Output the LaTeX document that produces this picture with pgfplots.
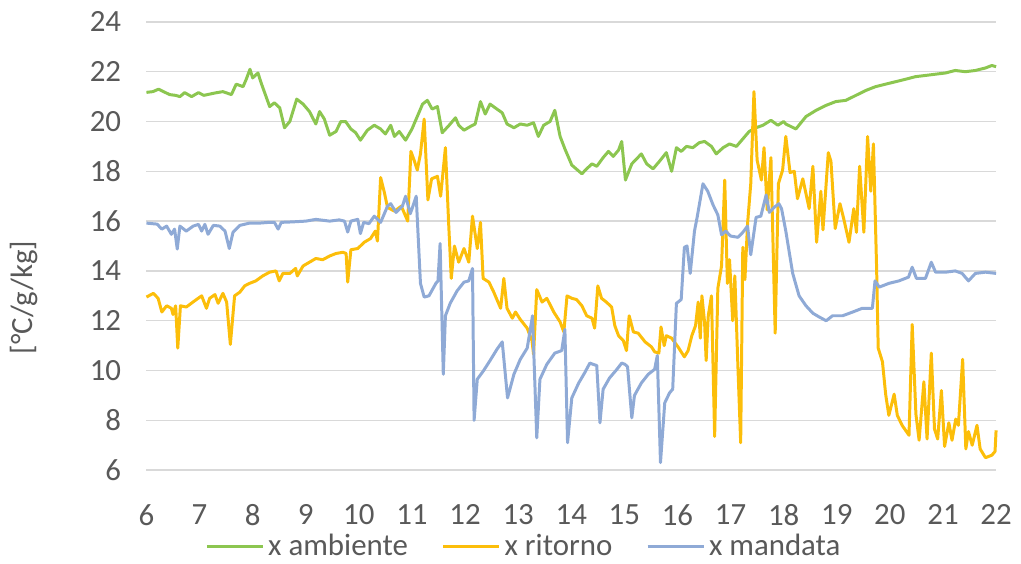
\documentclass[border=0pt]{standalone}
\usepackage{fontspec}
\setmainfont{Carlito}
\usepackage{pgfplots}
\pgfplotsset{compat=1.18}
\definecolor{cgreen}{RGB}{140,198,80}
\definecolor{cyellow}{RGB}{252,190,10}
\definecolor{cblue}{RGB}{143,170,214}
\definecolor{cgrid}{RGB}{217,217,217}
\definecolor{ctext}{RGB}{89,89,89}
\begin{document}
\begin{tikzpicture}
\fontsize{15.5}{18}\selectfont
\begin{axis}[
  scale only axis,
  width=426.5pt, height=225pt,
  xmin=6, xmax=22, ymin=6, ymax=24,
  xtick={6,...,22}, ytick={6,8,...,24},
  axis line style={draw=none},
  major tick length=0pt,
  ymajorgrids, major grid style={cgrid, line width=0.7pt},
  tick label style={font=\fontsize{15.5}{18}\selectfont, text=ctext},
  /pgf/number format/assume math mode=true,
  yticklabel style={anchor=east, inner sep=0pt, xshift=-12.5pt},
  xticklabel style={anchor=center, inner sep=0pt, yshift=-22.5pt},
  ylabel={[°C/g/kg]},
  ylabel style={at={(axis description cs:-0.144,0.385)}, anchor=center, rotate=0, font=\fontsize{15.5}{18}\selectfont, text=ctext},
  legend columns=3,
  legend style={at={(0.4455,-0.171)}, anchor=center, draw=none, fill=none, font=\fontsize{15.5}{18}\selectfont, text=ctext,
    /tikz/every even column/.append style={column sep=15pt}, inner sep=0pt},
  legend image code/.code={\draw[#1, line width=1.5pt] (0pt,0pt) -- (28pt,0pt);},
  every axis plot/.append style={line width=1.5pt, line join=round},
  clip=false,
]
\addplot[cgreen, mark=none] coordinates {
(6.0,21.17)(6.12,21.2)(6.23,21.3)(6.32,21.2)(6.44,21.08)(6.55,21.05)(6.63,21.0)(6.72,21.16)(6.85,21.0)(6.98,21.16)(7.08,21.05)(7.19,21.1)(7.3,21.15)(7.44,21.2)(7.6,21.08)(7.69,21.5)(7.82,21.4)(7.88,21.7)(7.95,22.1)(8.0,21.75)(8.1,21.95)(8.16,21.55)(8.32,20.6)(8.41,20.75)(8.51,20.55)(8.6,19.75)(8.7,20.0)(8.83,20.9)(8.95,20.7)(9.07,20.4)(9.19,19.9)(9.26,20.4)(9.35,20.1)(9.45,19.45)(9.57,19.6)(9.66,20.0)(9.75,20.0)(9.85,19.7)(9.94,19.55)(10.03,19.25)(10.16,19.65)(10.29,19.85)(10.41,19.7)(10.5,19.5)(10.6,19.85)(10.67,19.4)(10.76,19.6)(10.88,19.25)(11.0,19.7)(11.1,20.2)(11.2,20.7)(11.29,20.85)(11.38,20.5)(11.48,20.6)(11.57,19.55)(11.7,19.85)(11.82,20.15)(11.88,19.85)(11.98,19.65)(12.1,19.8)(12.19,19.9)(12.29,20.8)(12.38,20.3)(12.47,20.7)(12.6,20.5)(12.7,20.35)(12.79,19.9)(12.92,19.75)(13.04,19.9)(13.17,19.85)(13.29,19.95)(13.38,19.4)(13.48,19.85)(13.6,20.0)(13.69,20.45)(13.79,19.4)(13.88,18.9)(14.01,18.25)(14.2,17.9)(14.29,18.1)(14.39,18.3)(14.48,18.2)(14.6,18.55)(14.7,18.8)(14.79,18.6)(14.89,18.85)(14.95,19.2)(15.02,17.65)(15.14,18.3)(15.23,18.5)(15.32,18.7)(15.42,18.3)(15.54,18.1)(15.66,18.4)(15.79,18.75)(15.89,18.0)(15.98,18.95)(16.07,18.8)(16.17,19.0)(16.29,18.95)(16.41,19.15)(16.51,19.2)(16.64,19.0)(16.73,18.7)(16.86,18.95)(16.98,19.1)(17.11,19.0)(17.23,19.3)(17.35,19.6)(17.48,19.75)(17.61,19.85)(17.76,20.05)(17.89,19.85)(18.0,20.0)(18.04,19.9)(18.23,19.7)(18.42,20.2)(18.61,20.45)(18.8,20.65)(18.98,20.8)(19.17,20.85)(19.36,21.05)(19.55,21.25)(19.73,21.4)(19.92,21.5)(20.11,21.6)(20.3,21.7)(20.48,21.8)(20.67,21.85)(20.86,21.9)(21.05,21.95)(21.23,22.05)(21.42,22.0)(21.61,22.05)(21.8,22.15)(21.92,22.25)(22.0,22.2)
};
\addlegendentry{x ambiente}
\addplot[cyellow, mark=none] coordinates {
(6.0,12.95)(6.13,13.1)(6.22,12.9)(6.29,12.35)(6.38,12.6)(6.47,12.5)(6.5,12.25)(6.55,12.6)(6.59,10.9)(6.64,12.6)(6.75,12.55)(6.94,12.85)(7.04,13.0)(7.13,12.5)(7.19,12.9)(7.29,13.05)(7.35,12.7)(7.44,13.1)(7.51,12.75)(7.58,11.05)(7.66,13.0)(7.76,13.15)(7.85,13.4)(7.94,13.5)(8.06,13.6)(8.19,13.8)(8.32,13.95)(8.44,14.0)(8.5,13.6)(8.57,13.9)(8.7,13.9)(8.81,14.1)(8.84,13.8)(8.95,14.2)(9.07,14.35)(9.19,14.5)(9.32,14.45)(9.45,14.6)(9.57,14.7)(9.7,14.75)(9.76,14.7)(9.79,13.55)(9.85,14.85)(9.98,14.9)(10.1,15.15)(10.22,15.3)(10.31,15.6)(10.35,15.2)(10.41,17.75)(10.48,17.15)(10.54,16.55)(10.67,16.4)(10.8,16.6)(10.92,16.0)(10.98,18.8)(11.04,18.45)(11.1,18.05)(11.16,18.7)(11.23,20.1)(11.3,16.85)(11.37,17.7)(11.48,17.8)(11.54,17.0)(11.63,18.95)(11.69,15.95)(11.74,13.7)(11.8,15.0)(11.88,14.35)(11.98,14.9)(12.07,14.35)(12.14,16.2)(12.23,14.9)(12.29,15.95)(12.34,13.7)(12.45,13.55)(12.54,13.15)(12.67,12.5)(12.73,13.7)(12.79,12.5)(12.89,12.1)(12.95,12.35)(13.04,12.05)(13.17,11.7)(13.26,11.2)(13.29,10.65)(13.35,13.25)(13.45,12.75)(13.54,12.9)(13.67,12.35)(13.79,11.95)(13.86,11.55)(13.92,13.0)(14.01,12.9)(14.1,12.85)(14.2,12.6)(14.29,12.2)(14.39,12.1)(14.44,11.7)(14.5,13.4)(14.57,12.9)(14.66,12.75)(14.76,12.55)(14.82,11.8)(14.89,11.4)(14.98,11.2)(15.04,10.8)(15.09,12.2)(15.17,11.55)(15.26,11.5)(15.39,11.15)(15.51,10.95)(15.57,10.75)(15.65,10.7)(15.69,11.75)(15.75,11.0)(15.79,11.4)(15.89,11.3)(16.01,10.95)(16.13,10.55)(16.2,10.8)(16.27,11.4)(16.34,11.8)(16.39,12.75)(16.43,11.3)(16.46,13.0)(16.51,11.95)(16.54,10.4)(16.58,12.2)(16.64,13.0)(16.7,7.35)(16.76,13.3)(16.83,14.2)(16.89,17.65)(16.94,13.5)(16.98,14.45)(17.04,12.0)(17.08,13.8)(17.14,10.05)(17.19,7.1)(17.23,14.95)(17.27,13.65)(17.32,15.9)(17.38,17.5)(17.44,21.2)(17.5,18.45)(17.58,17.65)(17.63,18.95)(17.69,16.45)(17.76,18.55)(17.84,11.5)(17.9,17.5)(17.98,18.05)(18.04,19.4)(18.12,17.95)(18.2,18.0)(18.26,16.9)(18.36,17.7)(18.48,16.5)(18.55,18.2)(18.62,15.15)(18.7,17.2)(18.74,15.65)(18.84,18.75)(18.89,18.4)(18.97,15.7)(19.06,16.7)(19.13,16.1)(19.23,15.15)(19.32,16.5)(19.37,15.55)(19.43,18.2)(19.51,15.55)(19.58,19.4)(19.64,17.2)(19.69,19.1)(19.75,14.1)(19.78,10.9)(19.86,10.35)(19.92,9.05)(19.98,8.2)(20.08,9.05)(20.14,8.2)(20.23,7.8)(20.36,7.4)(20.42,11.85)(20.49,8.25)(20.55,7.2)(20.64,9.55)(20.7,7.25)(20.78,10.7)(20.84,7.65)(20.9,7.25)(20.97,9.2)(21.03,6.95)(21.11,7.9)(21.17,7.2)(21.24,8.05)(21.29,7.8)(21.37,10.45)(21.43,6.85)(21.48,7.55)(21.55,7.0)(21.64,7.8)(21.7,6.85)(21.8,6.5)(21.92,6.6)(21.98,6.75)(22.0,7.6)
};
\addlegendentry{x ritorno}
\addplot[cblue, mark=none] coordinates {
(6.0,15.92)(6.2,15.88)(6.29,15.68)(6.38,15.8)(6.47,15.47)(6.53,15.68)(6.58,14.88)(6.63,15.8)(6.75,15.6)(6.88,15.8)(6.98,15.87)(7.04,15.6)(7.1,15.87)(7.16,15.47)(7.26,15.83)(7.38,15.8)(7.48,15.6)(7.56,14.9)(7.63,15.55)(7.76,15.83)(7.94,15.92)(8.13,15.92)(8.31,15.95)(8.41,15.95)(8.48,15.68)(8.54,15.95)(8.76,15.97)(9.0,16.0)(9.19,16.07)(9.45,16.0)(9.63,16.05)(9.73,16.0)(9.79,15.56)(9.85,16.0)(9.98,16.07)(10.03,15.5)(10.09,15.95)(10.19,15.9)(10.29,16.2)(10.41,15.95)(10.54,16.6)(10.6,16.7)(10.7,16.35)(10.82,16.6)(10.88,17.0)(10.97,16.3)(11.08,17.0)(11.16,13.5)(11.23,12.95)(11.32,13.0)(11.45,13.5)(11.49,13.6)(11.53,15.1)(11.59,9.85)(11.63,12.2)(11.72,12.7)(11.85,13.2)(11.98,13.55)(12.07,13.6)(12.14,14.1)(12.17,8.0)(12.23,9.65)(12.35,10.0)(12.47,10.4)(12.6,10.85)(12.7,11.15)(12.8,8.9)(12.92,9.85)(13.04,10.45)(13.17,10.9)(13.27,12.2)(13.35,7.3)(13.41,9.65)(13.54,10.25)(13.69,10.7)(13.82,10.8)(13.88,11.65)(13.93,7.1)(14.01,8.9)(14.14,9.5)(14.25,9.9)(14.35,10.3)(14.41,10.25)(14.48,10.2)(14.54,7.9)(14.6,9.25)(14.72,9.7)(14.86,10.05)(14.95,10.3)(15.01,10.25)(15.06,10.15)(15.14,8.1)(15.19,9.0)(15.32,9.5)(15.45,9.85)(15.57,10.05)(15.62,10.6)(15.68,6.3)(15.76,8.7)(15.85,9.1)(15.91,9.25)(15.98,12.7)(16.07,12.85)(16.13,14.95)(16.18,15.0)(16.24,13.9)(16.32,15.6)(16.37,16.15)(16.48,17.5)(16.57,17.2)(16.67,16.65)(16.76,16.25)(16.83,15.45)(16.91,15.6)(17.0,15.4)(17.14,15.35)(17.23,15.55)(17.32,15.8)(17.38,14.65)(17.48,16.15)(17.57,16.2)(17.67,17.05)(17.73,16.35)(17.82,16.55)(17.91,16.7)(17.96,16.5)(18.04,15.6)(18.17,13.9)(18.29,13.0)(18.42,12.6)(18.55,12.3)(18.67,12.15)(18.8,12.0)(18.92,12.2)(19.11,12.2)(19.3,12.35)(19.48,12.5)(19.67,12.5)(19.72,13.6)(19.8,13.35)(19.98,13.5)(20.17,13.6)(20.35,13.75)(20.42,14.15)(20.5,13.7)(20.67,13.7)(20.78,14.35)(20.86,13.95)(21.05,13.95)(21.23,14.0)(21.36,13.9)(21.48,13.6)(21.61,13.9)(21.8,13.95)(22.0,13.9)
};
\addlegendentry{x mandata}
\end{axis}
\path (current axis.south west)++(-71.5pt,-46.5pt) coordinate (bbA);
\path (current axis.north east)++(12.5pt,11pt) coordinate (bbB);
\path (bbA) rectangle (bbB);
\end{tikzpicture}
\end{document}
